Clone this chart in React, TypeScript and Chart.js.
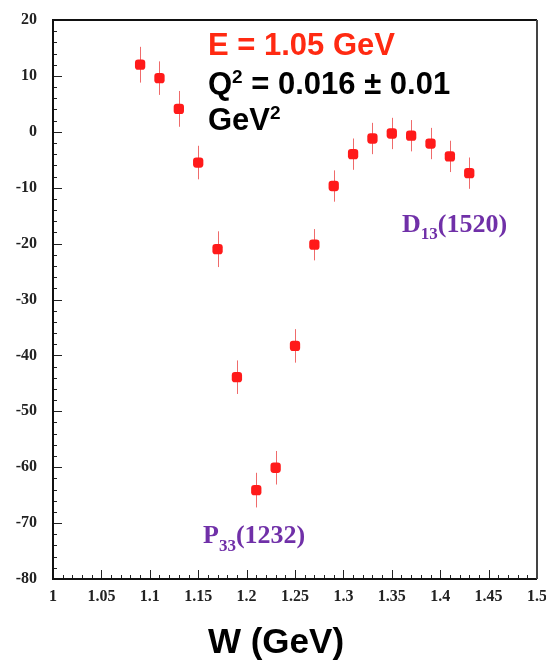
import React, { useEffect, useRef } from "react";
import { Chart, registerables } from "chart.js";

Chart.register(...registerables);

// Data
const wValues = [1.09, 1.11, 1.13, 1.15, 1.17, 1.19, 1.21, 1.23, 1.25, 1.27, 1.29, 1.31, 1.33, 1.35, 1.37, 1.39, 1.41, 1.43];
const yValues = [12.0, 9.6, 4.1, -5.5, -21.0, -43.9, -64.1, -60.1, -38.3, -20.2, -9.7, -4.0, -1.2, -0.3, -0.7, -2.1, -4.4, -7.4];
const yErrors = [3.2, 3.0, 3.2, 3.0, 3.2, 3.0, 3.1, 3.0, 3.0, 2.8, 2.8, 2.8, 2.8, 2.8, 2.8, 2.8, 2.8, 2.8];

const xMin = 1.0;
const xMax = 1.5;
const yMin = -80;
const yMax = 20;

const energyLabel = "E = 1.05 GeV";
const q2Label = " = 0.016 ± 0.01";
const unitLabel = "GeV";
const xTitle = "W (GeV)";

function drawSub(
  ctx: CanvasRenderingContext2D,
  x: number,
  y: number,
  main: string,
  sub: string,
  rest: string,
  bigFont: string,
  smallFont: string,
  subDy: number
) {
  ctx.font = bigFont;
  ctx.fillText(main, x, y);
  let cx = x + ctx.measureText(main).width;
  ctx.font = smallFont;
  ctx.fillText(sub, cx, y + subDy);
  cx += ctx.measureText(sub).width;
  ctx.font = bigFont;
  ctx.fillText(rest, cx, y);
}

const overlayPlugin = {
  id: "overlay",
  beforeDatasetsDraw(chart: any) {
    const ctx = chart.ctx as CanvasRenderingContext2D;
    const xs = chart.scales.x;
    const ys = chart.scales.y;
    ctx.save();
    ctx.strokeStyle = "rgba(235,70,70,0.8)";
    ctx.lineWidth = 1;
    for (let i = 0; i < wValues.length; i++) {
      const px = Math.round(xs.getPixelForValue(wValues[i])) + 0.5;
      const p1 = ys.getPixelForValue(yValues[i] + yErrors[i]);
      const p2 = ys.getPixelForValue(yValues[i] - yErrors[i]);
      ctx.beginPath();
      ctx.moveTo(px, p1);
      ctx.lineTo(px, p2);
      ctx.stroke();
    }
    ctx.restore();
  },
  afterDraw(chart: any) {
    const ctx = chart.ctx as CanvasRenderingContext2D;
    const xs = chart.scales.x;
    const ys = chart.scales.y;
    const a = chart.chartArea;
    ctx.save();
    // tick marks (inside)
    ctx.strokeStyle = "#222";
    ctx.lineWidth = 1;
    for (let v = yMin; v <= yMax + 0.001; v += 2) {
      const py = Math.round(ys.getPixelForValue(v)) + 0.5;
      const major = Math.abs(v % 10) < 0.001;
      ctx.beginPath();
      ctx.moveTo(a.left, py);
      ctx.lineTo(a.left + (major ? 9 : 4), py);
      ctx.stroke();
    }
    for (let k = 0; k <= 50; k++) {
      const v = xMin + k * 0.01;
      const px = Math.round(xs.getPixelForValue(v)) + 0.5;
      const major = k % 5 === 0;
      ctx.beginPath();
      ctx.moveTo(px, a.bottom);
      ctx.lineTo(px, a.bottom - (major ? 9 : 4));
      ctx.stroke();
    }
    // frame
    ctx.lineWidth = 2;
    ctx.strokeStyle = "#111";
    ctx.beginPath();
    ctx.moveTo(a.right, a.top);
    ctx.lineTo(a.left, a.top);
    ctx.lineTo(a.left, a.bottom);
    ctx.lineTo(a.right, a.bottom);
    ctx.stroke();
    ctx.strokeStyle = "#444";
    ctx.beginPath();
    ctx.moveTo(a.right, a.top);
    ctx.lineTo(a.right, a.bottom);
    ctx.stroke();

    // annotation texts
    ctx.textAlign = "left";
    ctx.textBaseline = "alphabetic";
    const tx = a.left + 155;
    ctx.fillStyle = "#ff2a12";
    ctx.font = 'bold 31px "Liberation Sans", Arial, sans-serif';
    ctx.fillText(energyLabel, tx, a.top + 35);
    ctx.fillStyle = "#000";
    drawSub(ctx, tx, a.top + 74, "Q", "2", q2Label,
      'bold 31px "Liberation Sans", Arial, sans-serif',
      'bold 19px "Liberation Sans", Arial, sans-serif', -11);
    drawSub(ctx, tx, a.top + 110, unitLabel, "2", "",
      'bold 31px "Liberation Sans", Arial, sans-serif',
      'bold 19px "Liberation Sans", Arial, sans-serif', -11);

    ctx.fillStyle = "#7030a8";
    drawSub(ctx, xs.getPixelForValue(1.3605), ys.getPixelForValue(-18.0), "D", "13", "(1520)",
      'bold 26px "Liberation Serif", "Times New Roman", serif',
      'bold 17px "Liberation Serif", "Times New Roman", serif', 7);
    drawSub(ctx, xs.getPixelForValue(1.155), ys.getPixelForValue(-73.6), "P", "33", "(1232)",
      'bold 26px "Liberation Serif", "Times New Roman", serif',
      'bold 17px "Liberation Serif", "Times New Roman", serif', 8);

    // axis title
    ctx.fillStyle = "#000";
    ctx.textAlign = "center";
    ctx.font = 'bold 35px "Liberation Sans", Arial, sans-serif';
    ctx.fillText(xTitle, 276, 653);
    ctx.restore();
  },
};

const tickFont = { family: '"Liberation Serif", "Times New Roman", serif', size: 16, weight: "bold" as const };

function zeroPadding(s: any) {
  s.paddingLeft = 0;
  s.paddingRight = 0;
  s.paddingTop = 0;
  s.paddingBottom = 0;
}

export default function App() {
  const ref = useRef<HTMLCanvasElement | null>(null);
  useEffect(() => {
    if (!ref.current) return;
    const chart = new Chart(ref.current, {
      type: "scatter",
      data: {
        datasets: [
          {
            data: wValues.map((w, i) => ({ x: w, y: yValues[i] })),
            backgroundColor: "#ff1a1a",
            borderColor: "#ff1a1a",
            pointRadius: 6,
            pointStyle: "rectRounded",
            pointBorderWidth: 0,
          },
        ],
      },
      options: {
        animation: false,
        responsive: false,
        layout: { padding: { top: 20, right: 9, left: 0, bottom: 0 } },
        plugins: { legend: { display: false }, tooltip: { enabled: false }, title: { display: false } },
        scales: {
          x: {
            type: "linear",
            min: xMin,
            max: xMax,
            grid: { display: false, drawTicks: false },
            border: { display: false },
            ticks: {
              stepSize: 0.05,
              autoSkip: false,
              maxRotation: 0,
              padding: 8,
              color: "#222",
              font: tickFont,
              callback: (v: any) => String(parseFloat(Number(v).toFixed(2))),
            },
            afterFit: (s: any) => {
              s.height = 86;
              zeroPadding(s);
            },
          },
          y: {
            type: "linear",
            min: yMin,
            max: yMax,
            grid: { display: false, drawTicks: false },
            border: { display: false },
            ticks: {
              stepSize: 10,
              padding: 16,
              color: "#222",
              font: tickFont,
              callback: (v: any) => String(Math.round(Number(v))),
            },
            afterFit: (s: any) => {
              s.width = 53;
              zeroPadding(s);
            },
          },
        },
      },
      plugins: [overlayPlugin],
    });
    return () => chart.destroy();
  }, []);
  return (
    <div style={{ position: "fixed", left: 0, top: 0, width: 546, height: 665, background: "#fff" }}>
      <canvas ref={ref} width={546} height={665} style={{ width: 546, height: 665, display: "block" }} />
    </div>
  );
}
